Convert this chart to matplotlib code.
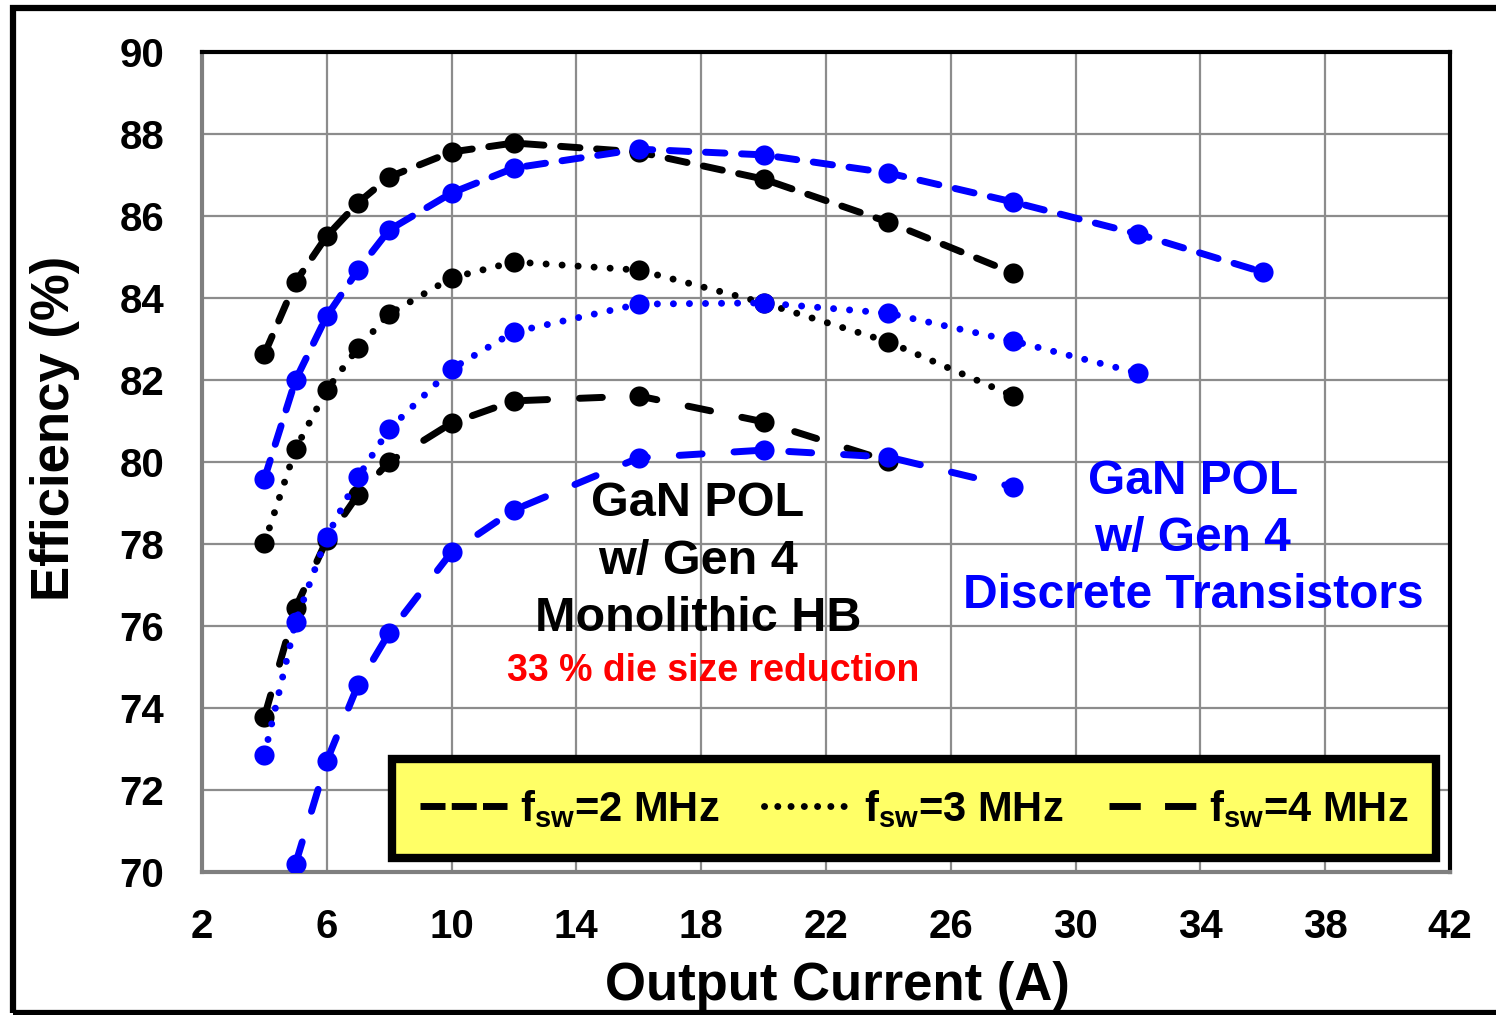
import matplotlib
matplotlib.use("Agg")
import matplotlib.pyplot as plt
from matplotlib.lines import Line2D
from matplotlib.patches import Rectangle

plt.rcParams['font.family'] = ['Liberation Sans', 'DejaVu Sans']
plt.rcParams['font.weight'] = 'bold'
plt.rcParams['mathtext.fontset'] = 'custom'
plt.rcParams['mathtext.bf'] = 'Liberation Sans:bold'
plt.rcParams['mathtext.rm'] = 'Liberation Sans:bold'
plt.rcParams['mathtext.default'] = 'bf'

# output current (A)
i_mono = [4, 5, 6, 7, 8, 10, 12, 16, 20, 24, 28]
i_mono_4m = [4, 5, 6, 7, 8, 10, 12, 16, 20, 24]
i_disc_2m = [4, 5, 6, 7, 8, 10, 12, 16, 20, 24, 28, 32, 36]
i_disc_3m = [4, 5, 6, 7, 8, 10, 12, 16, 20, 24, 28, 32]
i_disc_4m = [5, 6, 7, 8, 10, 12, 16, 20, 24, 28]

# efficiency (%) - monolithic half bridge (black)
eff_mono_2m = [82.63, 84.39, 85.51, 86.32, 86.95, 87.56, 87.78, 87.56, 86.9, 85.85, 84.61]
eff_mono_3m = [78.02, 80.32, 81.76, 82.78, 83.61, 84.49, 84.88, 84.68, 83.88, 82.93, 81.61]
eff_mono_4m = [73.78, 76.44, 78.1, 79.2, 80.0, 80.95, 81.49, 81.61, 80.98, 80.02]

# efficiency (%) - discrete transistors (blue)
eff_disc_2m = [79.59, 82.0, 83.56, 84.68, 85.66, 86.56, 87.17, 87.63, 87.49, 87.05, 86.34, 85.56, 84.63]
eff_disc_3m = [72.85, 76.1, 78.17, 79.63, 80.8, 82.27, 83.17, 83.85, 83.88, 83.63, 82.95, 82.17]
eff_disc_4m = [70.2, 72.71, 74.56, 75.83, 77.8, 78.83, 80.1, 80.29, 80.12, 79.39]

legend_labels = ["f$_{sw}$=2 MHz", "f$_{sw}$=3 MHz", "f$_{sw}$=4 MHz"]

dash_2m = (2.8, 2.4)
dot_3m = (0.01, 2.3)
dash_4m = (3.3, 4.6)

fig = plt.figure(figsize=(14.96, 10.15), dpi=100)
ax = fig.add_axes([0.135, 0.1409, 0.8342, 0.8079])

def curve(x, y, color, dashes):
    ax.plot(x, y, color=color, lw=5, dashes=dashes, dash_capstyle='round',
            marker='o', markersize=14.5, markeredgewidth=0, zorder=3)

curve(i_mono, eff_mono_2m, 'black', dash_2m)
curve(i_mono, eff_mono_3m, 'black', dot_3m)
curve(i_mono_4m, eff_mono_4m, 'black', dash_4m)
curve(i_disc_2m, eff_disc_2m, '#0000FF', dash_2m)
curve(i_disc_3m, eff_disc_3m, '#0000FF', dot_3m)
curve(i_disc_4m, eff_disc_4m, '#0000FF', dash_4m)

ax.set_xlim(2, 42)
ax.set_ylim(70, 90)
ax.set_xticks(range(2, 43, 4))
ax.set_yticks(range(70, 91, 2))
ax.grid(True, color='#8c8c8c', lw=1.6, zorder=0)
ax.set_axisbelow(True)
ax.tick_params(length=0, labelsize=29)
ax.tick_params(axis='x', pad=26)
ax.tick_params(axis='y', pad=27)
for lab in ax.get_xticklabels() + ax.get_yticklabels():
    lab.set_fontweight('bold')

for s in ['top', 'right']:
    ax.spines[s].set_color('black')
    ax.spines[s].set_linewidth(3)
for s in ['left', 'bottom']:
    ax.spines[s].set_color('#7f7f7f')
    ax.spines[s].set_linewidth(3)

ax.set_xlabel("Output Current (A)", fontsize=38, fontweight='bold')
ax.set_ylabel("Efficiency (%)", fontsize=38, fontweight='bold')
ax.xaxis.set_label_coords(0.509, -0.108)
ax.yaxis.set_label_coords(-0.098, 0.541)

# annotations
for txt, y in [("GaN POL", 78.99), ("w/ Gen 4", 77.58), ("Monolithic HB", 76.19)]:
    ax.text(17.9, y, txt, fontsize=35, fontweight='bold', color='black',
            ha='center', va='center', zorder=4)
ax.text(18.4, 74.9, "33 % die size reduction", fontsize=27, fontweight='bold',
        color='#FF0000', ha='center', va='center', zorder=4)
for txt, y in [("GaN POL", 79.52), ("w/ Gen 4", 78.13), ("Discrete Transistors", 76.74)]:
    ax.text(33.76, y, txt, fontsize=34.5, fontweight='bold', color='#0000FF',
            ha='center', va='center', zorder=4)

handles = [Line2D([], [], color='black', lw=5, dashes=(3.6, 0.9), dash_capstyle='butt'),
           Line2D([], [], color='black', lw=5, dashes=(0.01, 1.9), dash_capstyle='round'),
           Line2D([], [], color='black', lw=5, dashes=(4.5, 3.5), dash_capstyle='butt')]
leg = ax.legend(handles, legend_labels, ncol=3, loc='lower left',
                bbox_to_anchor=(0.152, 0.017, 0.837, 0.117), mode='expand',
                borderaxespad=0, fontsize=30, handlelength=2.1, handletextpad=0.3,
                columnspacing=1.0, borderpad=0.68, fancybox=False,
                facecolor='#FFFF66', edgecolor='black', framealpha=1)
leg.get_frame().set_linewidth(6)
leg.set_zorder(5)

# outer frame
fig.patches.append(Rectangle((13 / 1496, 1 - 1013 / 1015), 1.1, (1013 - 8) / 1015,
                             transform=fig.transFigure, fill=False,
                             edgecolor='black', lw=4.5, clip_on=False))

fig.savefig("out.png", dpi=100)
